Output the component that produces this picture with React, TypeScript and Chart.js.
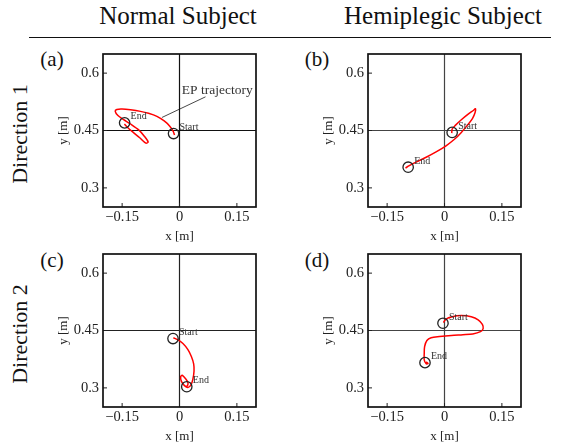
import React, { useEffect, useRef } from "react";
import { Chart, registerables } from "chart.js";
Chart.register(...registerables);

const FONT = '"Liberation Serif", "Times New Roman", "DejaVu Serif", serif';

// axes
const xTicks = [-0.15, 0, 0.15];
const yTicks = [0.3, 0.45, 0.6];
const xRange = [-0.2, 0.2];
const yRange = [0.25, 0.65];
const crossX = 0;
const crossY = 0.45;

// (a) Normal subject, direction 1
const aTrajX = [-0.013, -0.017, -0.026, -0.040, -0.059, -0.081, -0.102, -0.128, -0.150, -0.164, -0.168, -0.161, -0.147, -0.128, -0.106, -0.092, -0.082, -0.088, -0.104, -0.121, -0.135, -0.144];
const aTrajY = [0.438, 0.449, 0.462, 0.475, 0.487, 0.495, 0.500, 0.504, 0.506, 0.505, 0.500, 0.489, 0.479, 0.467, 0.451, 0.435, 0.420, 0.417, 0.431, 0.445, 0.457, 0.467];
const aStart = [-0.0156, 0.442];
const aEnd = [-0.1435, 0.470];
const aLeaderX = [0.068, -0.046];
const aLeaderY = [0.538, 0.484];
const aLeaderText = [0.006, 0.556];

// (b) Hemiplegic subject, direction 1
const bTrajX = [0.019, 0.020, 0.029, 0.044, 0.061, 0.076, 0.081, 0.080, 0.073, 0.060, 0.044, 0.026, 0.004, -0.022, -0.048, -0.073, -0.092, -0.102];
const bTrajY = [0.443, 0.454, 0.464, 0.478, 0.492, 0.503, 0.507, 0.497, 0.481, 0.464, 0.445, 0.427, 0.410, 0.394, 0.380, 0.368, 0.358, 0.352];
const bStart = [0.020, 0.445];
const bEnd = [-0.095, 0.354];

// (c) Normal subject, direction 2
const cTrajX = [-0.016, -0.005, 0.009, 0.022, 0.031, 0.037, 0.038, 0.035, 0.030, 0.022, 0.013, 0.005, 0.003, 0.007, 0.016, 0.022, 0.021, 0.016];
const cTrajY = [0.431, 0.426, 0.416, 0.400, 0.382, 0.363, 0.344, 0.323, 0.308, 0.301, 0.306, 0.317, 0.329, 0.333, 0.324, 0.314, 0.306, 0.303];
const cStart = [-0.017, 0.429];
const cEnd = [0.019, 0.303];

// (d) Hemiplegic subject, direction 2
const dTrajX = [-0.003, 0.004, 0.020, 0.044, 0.070, 0.088, 0.099, 0.101, 0.094, 0.074, 0.048, 0.018, -0.013, -0.035, -0.046, -0.052, -0.053, -0.053, -0.048, -0.043, -0.048];
const dTrajY = [0.471, 0.480, 0.486, 0.489, 0.486, 0.478, 0.466, 0.455, 0.447, 0.441, 0.439, 0.437, 0.434, 0.431, 0.424, 0.408, 0.389, 0.373, 0.363, 0.364, 0.368];
const dStart = [-0.004, 0.469];
const dEnd = [-0.051, 0.366];

const fmt = (v: number) => (v === 0 ? "0" : v < 0 ? "\u2212" + String(Math.abs(v)) : String(v));

const SIZE = 153;
const PAD_L = 63;
const PAD_T = 16;
const PAD_R = 10;
const PAD_B = 40;

type PanelProps = {
  left: number;
  top: number;
  trajX: number[];
  trajY: number[];
  start: number[];
  end: number[];
  crossColor: string;
  leader?: boolean;
};

function Panel(p: PanelProps) {
  const ref = useRef<HTMLCanvasElement | null>(null);
  useEffect(() => {
    if (!ref.current) return;
    const traj = p.trajX.map((x, i) => ({ x, y: p.trajY[i] }));
    const datasets: any[] = [
      {
        data: [{ x: p.start[0], y: p.start[1] }, { x: p.end[0], y: p.end[1] }],
        showLine: false,
        pointRadius: 5.2,
        pointBorderWidth: 1.3,
        pointBorderColor: "#222",
        pointBackgroundColor: "rgba(0,0,0,0)",
        order: 1,
      },
      {
        data: traj,
        showLine: true,
        borderColor: "#ff0000",
        borderWidth: 1.5,
        pointRadius: 0,
        tension: 0.3,
        order: 2,
      },
      {
        data: [{ x: crossX, y: yRange[0] }, { x: crossX, y: yRange[1] }],
        showLine: true,
        borderColor: p.crossColor,
        borderWidth: 1.2,
        pointRadius: 0,
        order: 3,
      },
      {
        data: [{ x: xRange[0], y: crossY }, { x: xRange[1], y: crossY }],
        showLine: true,
        borderColor: p.crossColor,
        borderWidth: 1.2,
        pointRadius: 0,
        order: 3,
      },
    ];
    if (p.leader) {
      datasets.push({
        data: aLeaderX.map((x, i) => ({ x, y: aLeaderY[i] })),
        showLine: true,
        borderColor: "#333",
        borderWidth: 0.9,
        pointRadius: 0,
        order: 4,
      });
    }
    const texts: any[] = [
      { text: "Start", x: p.start[0], y: p.start[1], dx: 6, dy: -6, size: 10 },
      { text: "End", x: p.end[0], y: p.end[1], dx: 6, dy: -6, size: 10 },
    ];
    if (p.leader) {
      texts.push({ text: "EP trajectory", x: aLeaderText[0], y: aLeaderText[1], dx: 0, dy: 0, size: 13.5 });
    }
    const decor = {
      id: "decor",
      afterDatasetsDraw(chart: any) {
        const { ctx, chartArea: a, scales } = chart;
        const sx = scales.x;
        const sy = scales.y;
        ctx.save();
        ctx.strokeStyle = "#222";
        ctx.lineWidth = 1;
        ctx.beginPath();
        for (const v of xTicks) {
          const px = sx.getPixelForValue(v);
          ctx.moveTo(px, a.bottom);
          ctx.lineTo(px, a.bottom - 4);
        }
        for (const v of yTicks) {
          const py = sy.getPixelForValue(v);
          ctx.moveTo(a.left, py);
          ctx.lineTo(a.left + 4, py);
        }
        ctx.stroke();
        ctx.lineWidth = 1.7;
        ctx.strokeStyle = "#111";
        ctx.strokeRect(a.left, a.top, a.right - a.left, a.bottom - a.top);
        ctx.fillStyle = "#333";
        ctx.textAlign = "left";
        ctx.textBaseline = "middle";
        for (const t of texts) {
          ctx.font = `${t.size}px ${FONT}`;
          ctx.fillText(t.text, sx.getPixelForValue(t.x) + t.dx, sy.getPixelForValue(t.y) + t.dy);
        }
        ctx.restore();
      },
    };
    const chart = new Chart(ref.current, {
      type: "scatter",
      data: { datasets },
      options: {
        animation: false,
        responsive: false,
        devicePixelRatio: 1,
        events: [],
        layout: { padding: { top: PAD_T, right: PAD_R, bottom: 0, left: 0 } },
        plugins: { legend: { display: false }, tooltip: { enabled: false } },
        scales: {
          x: {
            type: "linear",
            min: xRange[0],
            max: xRange[1],
            afterBuildTicks: (s: any) => {
              s.ticks = xTicks.map((v) => ({ value: v }));
            },
            afterFit: (s: any) => {
              s.height = PAD_B;
            },
            grid: { display: false, drawTicks: false },
            border: { display: false },
            ticks: {
              autoSkip: false,
              maxRotation: 0,
              padding: 1,
              color: "#222",
              font: { family: FONT, size: 14.5 },
              callback: (v: any) => fmt(Number(v)),
            },
            title: {
              display: true,
              text: "x [m]",
              color: "#222",
              font: { family: FONT, size: 13 },
              padding: { top: 0, bottom: 3 },
            },
          },
          y: {
            type: "linear",
            min: yRange[0],
            max: yRange[1],
            afterBuildTicks: (s: any) => {
              s.ticks = yTicks.map((v) => ({ value: v }));
            },
            afterFit: (s: any) => {
              s.width = PAD_L;
            },
            grid: { display: false, drawTicks: false },
            border: { display: false },
            ticks: {
              autoSkip: false,
              padding: 4,
              color: "#222",
              font: { family: FONT, size: 14.5 },
              callback: (v: any) => fmt(Number(v)),
            },
            title: {
              display: true,
              text: "y [m]",
              color: "#222",
              font: { family: FONT, size: 13 },
              padding: { top: 15.5, bottom: 0 },
            },
          },
        },
      },
      plugins: [decor],
    } as any);
    return () => chart.destroy();
  }, []);
  const w = PAD_L + SIZE + PAD_R;
  const h = PAD_T + SIZE + PAD_B;
  return (
    <canvas
      ref={ref}
      width={w}
      height={h}
      style={{ position: "absolute", left: p.left - PAD_L, top: p.top - PAD_T, width: w, height: h }}
    />
  );
}

const textBase: React.CSSProperties = {
  position: "absolute",
  fontFamily: FONT,
  color: "#111",
  whiteSpace: "nowrap",
  lineHeight: 1,
  transform: "translate(-50%, -50%)",
};

export default function App() {
  return (
    <div style={{ position: "absolute", left: 0, top: 0, width: 564, height: 446, background: "#fff", overflow: "hidden" }}>
      <div style={{ ...textBase, left: 178, top: 15, fontSize: 25 }}>Normal Subject</div>
      <div style={{ ...textBase, left: 443, top: 15, fontSize: 25 }}>Hemiplegic Subject</div>
      <div style={{ position: "absolute", left: 29, top: 37, width: 522, height: 1, background: "#111" }} />
      <div style={{ ...textBase, left: 20, top: 134, fontSize: 22, transform: "translate(-50%, -50%) rotate(-90deg)" }}>Direction 1</div>
      <div style={{ ...textBase, left: 20, top: 334, fontSize: 22, transform: "translate(-50%, -50%) rotate(-90deg)" }}>Direction 2</div>
      <div style={{ ...textBase, left: 52, top: 59, fontSize: 21 }}>(a)</div>
      <div style={{ ...textBase, left: 317, top: 59, fontSize: 21 }}>(b)</div>
      <div style={{ ...textBase, left: 52, top: 260, fontSize: 21 }}>(c)</div>
      <div style={{ ...textBase, left: 317, top: 260, fontSize: 21 }}>(d)</div>
      <Panel left={103} top={54} trajX={aTrajX} trajY={aTrajY} start={aStart} end={aEnd} crossColor="#111" leader />
      <Panel left={368} top={54} trajX={bTrajX} trajY={bTrajY} start={bStart} end={bEnd} crossColor="#444" />
      <Panel left={103} top={254} trajX={cTrajX} trajY={cTrajY} start={cStart} end={cEnd} crossColor="#222" />
      <Panel left={368} top={254} trajX={dTrajX} trajY={dTrajY} start={dStart} end={dEnd} crossColor="#444" />
    </div>
  );
}
